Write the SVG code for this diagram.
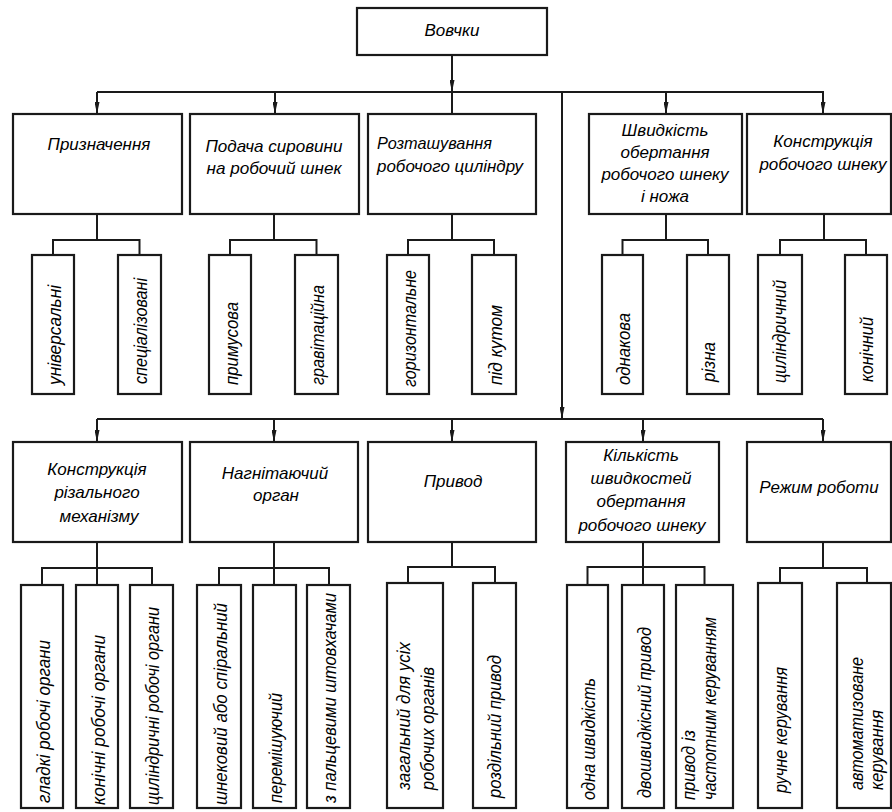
<svg xmlns="http://www.w3.org/2000/svg" width="892" height="812" viewBox="0 0 892 812">
<defs>
<style>
.box{fill:#fff;stroke:#1a1a1a;stroke-width:2.2}
.ln{fill:none;stroke:#1a1a1a;stroke-width:2}
.t{font-family:"Liberation Sans",Arial,sans-serif;font-style:italic;font-size:17px;fill:#000;text-anchor:middle}
.ts{font-family:"Liberation Sans",Arial,sans-serif;font-style:italic;font-size:17px;fill:#000;text-anchor:start}
.v{font-family:"Liberation Sans",Arial,sans-serif;font-style:italic;font-size:18.5px;fill:#000;text-anchor:start}
</style>
<marker id="ar" viewBox="0 0 12 5" refX="12" refY="2.5" markerWidth="12" markerHeight="5" markerUnits="userSpaceOnUse" orient="auto">
<path d="M0,0 L12,2.5 L0,5 z" fill="#1a1a1a"/>
</marker>
</defs>
<rect width="892" height="812" fill="#fff"/>

<g id="connectors">
<line class="ln" x1="452" y1="55" x2="452" y2="92" marker-end="url(#ar)"/>
<line class="ln" x1="97" y1="92" x2="824" y2="92"/>
<line class="ln" x1="97" y1="92" x2="97" y2="114" marker-end="url(#ar)"/>
<line class="ln" x1="275" y1="92" x2="275" y2="114" marker-end="url(#ar)"/>
<line class="ln" x1="452" y1="92" x2="452" y2="114"/>
<line class="ln" x1="666" y1="92" x2="666" y2="114" marker-end="url(#ar)"/>
<line class="ln" x1="823" y1="92" x2="823" y2="114" marker-end="url(#ar)"/>
<line class="ln" x1="562" y1="92" x2="562" y2="419" marker-end="url(#ar)"/>
<path class="ln" d="M97,214 V240 M53,255 V240 H139.5 V255"/>
<path class="ln" d="M274,214 V240 M230,255 V240 H316.5 V255"/>
<path class="ln" d="M452,214 V240 M408,255 V240 H494 V255"/>
<path class="ln" d="M666,214 V240 M622.5,255 V240 H708 V255"/>
<path class="ln" d="M824,214 V240 M780,255 V240 H866 V255"/>
<line class="ln" x1="97" y1="419" x2="823" y2="419"/>
<line class="ln" x1="97" y1="419" x2="97" y2="442" marker-end="url(#ar)"/>
<line class="ln" x1="274" y1="419" x2="274" y2="442" marker-end="url(#ar)"/>
<line class="ln" x1="452" y1="419" x2="452" y2="442" marker-end="url(#ar)"/>
<line class="ln" x1="643" y1="419" x2="643" y2="442" marker-end="url(#ar)"/>
<line class="ln" x1="823" y1="419" x2="823" y2="442" marker-end="url(#ar)"/>
<path class="ln" d="M97,542 V585 M42,585 V568 H152 V585"/>
<path class="ln" d="M274,542 V585 M219,585 V568 H329 V585"/>
<path class="ln" d="M452,542 V567 M408,583 V567 H495 V583"/>
<path class="ln" d="M643,542 V585 M587.5,585 V567 H704.5 V585"/>
<path class="ln" d="M823,542 V568 M780,583 V568 H867 V583"/>
</g>

<g id="n-root"><rect class="box" x="357" y="8" width="190" height="47"/><text class="t" x="452" y="36">Вовчки</text></g>

<g id="n-pryznachennia"><rect class="box" x="13" y="114" width="169" height="100"/><text class="t" x="99" y="150">Призначення</text></g>
<g id="n-podacha"><rect class="box" x="190" y="114" width="169" height="100"/><text class="t" x="274" y="151.5" textLength="137" lengthAdjust="spacingAndGlyphs">Подача сировини</text><text class="t" x="274" y="173.5" textLength="135" lengthAdjust="spacingAndGlyphs">на робочий шнек</text></g>
<g id="n-roztashuvannia"><rect class="box" x="368" y="114" width="168" height="100"/><text class="ts" x="377" y="149" textLength="115" lengthAdjust="spacingAndGlyphs">Розташування</text><text class="ts" x="377" y="172" textLength="146" lengthAdjust="spacingAndGlyphs">робочого циліндру</text></g>
<g id="n-shvydkist"><rect class="box" x="589" y="114" width="153" height="100"/><text class="t" x="665" y="136">Швидкість</text><text class="t" x="665" y="158">обертання</text><text class="t" x="665" y="180">робочого шнеку</text><text class="t" x="665" y="202">і ножа</text></g>
<g id="n-konstr-shneku"><rect class="box" x="747" y="114" width="144" height="100"/><text class="t" x="823" y="147">Конструкція</text><text class="t" x="823" y="170">робочого шнеку</text></g>

<g id="l-universalni"><rect class="box" x="32" y="255" width="42" height="139"/><text class="v" transform="translate(60.5,385) rotate(-90)" textLength="100" lengthAdjust="spacingAndGlyphs">універсальні</text></g>
<g id="l-spetsializovani"><rect class="box" x="118" y="255" width="43" height="139"/><text class="v" transform="translate(147,384) rotate(-90)" textLength="106" lengthAdjust="spacingAndGlyphs">спеціалізовані</text></g>
<g id="l-prymusova"><rect class="box" x="209" y="255" width="42" height="139"/><text class="v" transform="translate(237.5,385) rotate(-90)" textLength="83" lengthAdjust="spacingAndGlyphs">примусова</text></g>
<g id="l-gravitatsiina"><rect class="box" x="295" y="255" width="43" height="139"/><text class="v" transform="translate(324,385) rotate(-90)" textLength="100" lengthAdjust="spacingAndGlyphs">гравітаційна</text></g>
<g id="l-horyzontalne"><rect class="box" x="387" y="255" width="42" height="139"/><text class="v" transform="translate(415.5,387) rotate(-90)" textLength="117" lengthAdjust="spacingAndGlyphs">горизонтальне</text></g>
<g id="l-pid-kutom"><rect class="box" x="472" y="255" width="44" height="139"/><text class="v" transform="translate(501.5,385) rotate(-90)" textLength="80" lengthAdjust="spacingAndGlyphs">під кутом</text></g>
<g id="l-odnakova"><rect class="box" x="602" y="255" width="41" height="139"/><text class="v" transform="translate(630,385) rotate(-90)" textLength="72" lengthAdjust="spacingAndGlyphs">однакова</text></g>
<g id="l-rizna"><rect class="box" x="687" y="255" width="42" height="139"/><text class="v" transform="translate(714.5,382) rotate(-90)" textLength="40" lengthAdjust="spacingAndGlyphs">різна</text></g>
<g id="l-tsylindrychnyi"><rect class="box" x="758" y="255" width="44" height="139"/><text class="v" transform="translate(786,383) rotate(-90)" textLength="103" lengthAdjust="spacingAndGlyphs">циліндричний</text></g>
<g id="l-konichnyi"><rect class="box" x="845" y="255" width="42" height="139"/><text class="v" transform="translate(872.5,382) rotate(-90)" textLength="65" lengthAdjust="spacingAndGlyphs">конічний</text></g>

<g id="n-konstr-rizalnoho"><rect class="box" x="13" y="442" width="169" height="100"/><text class="t" x="97" y="474.5">Конструкція</text><text class="t" x="97" y="498">різального</text><text class="t" x="99" y="521.5">механізму</text></g>
<g id="n-nahnitaiuchyi"><rect class="box" x="190" y="442" width="168" height="100"/><text class="t" x="275" y="479">Нагнітаючий</text><text class="t" x="276" y="501">орган</text></g>
<g id="n-pryvod"><rect class="box" x="368" y="442" width="168" height="100"/><text class="t" x="453" y="487">Привод</text></g>
<g id="n-kilkist"><rect class="box" x="566" y="442" width="153" height="100"/><text class="t" x="641" y="460.5">Кількість</text><text class="t" x="641" y="483.5">швидкостей</text><text class="t" x="641" y="507">обертання</text><text class="t" x="642" y="530.5">робочого шнеку</text></g>
<g id="n-rezhym"><rect class="box" x="747" y="442" width="144" height="100"/><text class="t" x="819" y="493">Режим роботи</text></g>

<g id="l-hladki"><rect class="box" x="21" y="585" width="42" height="223"/><text class="v" transform="translate(50,803) rotate(-90)" textLength="163" lengthAdjust="spacingAndGlyphs">гладкі робочі органи</text></g>
<g id="l-konichni"><rect class="box" x="76" y="585" width="42" height="223"/><text class="v" transform="translate(105,805) rotate(-90)" textLength="170" lengthAdjust="spacingAndGlyphs">конічні робочі органи</text></g>
<g id="l-tsylindrychni"><rect class="box" x="130" y="585" width="43" height="223"/><text class="v" transform="translate(159,805) rotate(-90)" textLength="198" lengthAdjust="spacingAndGlyphs">циліндричні робочі органи</text></g>
<g id="l-shnekovyi"><rect class="box" x="197" y="585" width="44" height="223"/><text class="v" transform="translate(226.5,805) rotate(-90)" textLength="202" lengthAdjust="spacingAndGlyphs">шнековий або спіральний</text></g>
<g id="l-peremishuiuchyi"><rect class="box" x="253" y="585" width="43" height="223"/><text class="v" transform="translate(282,803) rotate(-90)" textLength="110" lengthAdjust="spacingAndGlyphs">перемішуючий</text></g>
<g id="l-paltsevymy"><rect class="box" x="307" y="585" width="43" height="223"/><text class="v" transform="translate(336,803) rotate(-90)" textLength="210" lengthAdjust="spacingAndGlyphs">з пальцевими штовхачами</text></g>
<g id="l-zahalnyi"><rect class="box" x="387" y="583" width="56" height="225"/><text class="v" transform="translate(410,790) rotate(-90)" textLength="148" lengthAdjust="spacingAndGlyphs">загальний для усіх</text><text class="v" transform="translate(434,790) rotate(-90)" textLength="123" lengthAdjust="spacingAndGlyphs">робочих органів</text></g>
<g id="l-rozdilnyi"><rect class="box" x="473" y="583" width="43" height="225"/><text class="v" transform="translate(501,798) rotate(-90)" textLength="143" lengthAdjust="spacingAndGlyphs">роздільний привод</text></g>
<g id="l-odna"><rect class="box" x="567" y="585" width="41" height="223"/><text class="v" transform="translate(595,800) rotate(-90)" textLength="122" lengthAdjust="spacingAndGlyphs">одна швидкість</text></g>
<g id="l-dvoshvydkisnyi"><rect class="box" x="622" y="585" width="42" height="223"/><text class="v" transform="translate(650.5,798) rotate(-90)" textLength="171" lengthAdjust="spacingAndGlyphs">двошвидкісний привод</text></g>
<g id="l-chastotnym"><rect class="box" x="676" y="585" width="57" height="223"/><text class="v" transform="translate(695,800) rotate(-90)" textLength="70" lengthAdjust="spacingAndGlyphs">привод із</text><text class="v" transform="translate(716,800) rotate(-90)" textLength="183" lengthAdjust="spacingAndGlyphs">частотним керуванням</text></g>
<g id="l-ruchne"><rect class="box" x="758" y="583" width="44" height="225"/><text class="v" transform="translate(787,793) rotate(-90)" textLength="126" lengthAdjust="spacingAndGlyphs">ручне керування</text></g>
<g id="l-avtomatyzovane"><rect class="box" x="837" y="583" width="54" height="225"/><text class="v" transform="translate(863,790) rotate(-90)" textLength="133" lengthAdjust="spacingAndGlyphs">автоматизоване</text><text class="v" transform="translate(883,790) rotate(-90)" textLength="80" lengthAdjust="spacingAndGlyphs">керування</text></g>
</svg>
